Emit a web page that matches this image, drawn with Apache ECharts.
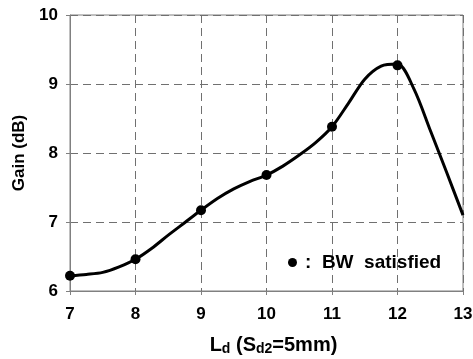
<!DOCTYPE html>
<html>
<head>
<meta charset="utf-8">
<script src="https://cdn.jsdelivr.net/npm/echarts@6/dist/echarts.min.js"></script>
<style>
  html, body { margin: 0; padding: 0; background: #fff; }
  #chart { width: 473px; height: 359px; }
</style>
</head>
<body>
<div id="chart"></div>
<script>
// gain curve (smooth fitted line)
const curveX = [7, 7.25, 7.5, 7.75, 8, 8.25, 8.5, 8.75, 9, 9.25, 9.5, 9.75, 10,
  10.25, 10.5, 10.75, 11, 11.25, 11.5, 11.75, 12, 12.25, 12.5, 12.75, 13];
const curveY = [6.22, 6.24, 6.27, 6.35, 6.46, 6.62, 6.81, 6.99, 7.17, 7.34, 7.48, 7.59, 7.68,
  7.81, 7.97, 8.15, 8.38, 8.72, 9.07, 9.26, 9.29, 8.93, 8.33, 7.72, 7.1];

// measured points where BW is satisfied
const pointX = [7, 8, 9, 10, 11, 12];
const pointY = [6.22, 6.46, 7.17, 7.68, 8.38, 9.27];

const xTicks = { min: 7, max: 13, step: 1 };
const yTicks = { min: 6, max: 10, step: 1 };

const frameColor = "#808080";
const gridColor = "#707070";
const fontFamily = "'Liberation Sans', Arial, sans-serif";

const chart = echarts.init(document.getElementById("chart"));

const option = {
  animation: false,
  grid: {
    left: 70,
    right: 10,
    top: 15,
    bottom: 68,
    outerBoundsMode: "none",
    show: true,
    borderColor: frameColor,
    borderWidth: 1,
  },
  legend: {
    data: [{ name: "bw", icon: "circle" }],
    formatter: () => ":  BW  satisfied",
    left: 283,
    top: 248,
    itemWidth: 9,
    itemHeight: 9,
    itemGap: 0,
    textStyle: {
      fontFamily,
      fontWeight: "bold",
      fontSize: 19,
      color: "#000",
      padding: [0, 0, 0, 3],
    },
  },
  xAxis: {
    type: "value",
    min: xTicks.min,
    max: xTicks.max,
    interval: xTicks.step,
    name: "{m|L}{s|d}{m| (S}{s|d2}{m|=5mm)}",
    nameLocation: "middle",
    nameGap: 44,
    nameTextStyle: {
      padding: [0, 0, 0, 14],
      rich: {
        m: { fontFamily, fontWeight: "bold", fontSize: 20, lineHeight: 20, color: "#000" },
        s: { fontFamily, fontWeight: "bold", fontSize: 14, lineHeight: 20, padding: [8, 0, 0, 0], color: "#000" },
      },
    },
    axisLine: { lineStyle: { color: frameColor, width: 1 } },
    axisTick: { show: true, length: 4, lineStyle: { color: frameColor } },
    axisLabel: {
      margin: 15,
      fontFamily,
      fontWeight: "bold",
      fontSize: 17,
      color: "#000",
    },
    splitLine: {
      show: true,
      lineStyle: { color: gridColor, type: [8, 5], width: 1 },
    },
  },
  yAxis: {
    type: "value",
    min: yTicks.min,
    max: yTicks.max,
    interval: yTicks.step,
    name: "Gain (dB)",
    nameLocation: "middle",
    nameGap: 40,
    nameTextStyle: {
      fontFamily,
      fontWeight: "bold",
      fontSize: 17,
      color: "#000",
    },
    axisLine: { show: true, lineStyle: { color: frameColor, width: 1 } },
    axisTick: { show: true, length: 4, lineStyle: { color: frameColor } },
    axisLabel: {
      margin: 12,
      fontFamily,
      fontWeight: "bold",
      fontSize: 17,
      color: "#000",
    },
    splitLine: {
      show: true,
      lineStyle: { color: gridColor, type: [8, 5], width: 1 },
    },
  },
  series: [
    {
      name: "curve",
      type: "line",
      smooth: 0.3,
      showSymbol: false,
      data: curveX.map((x, i) => [x, curveY[i]]),
      lineStyle: { color: "#000", width: 3 },
      z: 3,
    },
    {
      name: "bw",
      type: "scatter",
      data: pointX.map((x, i) => [x, pointY[i]]),
      symbol: "circle",
      symbolSize: 10,
      itemStyle: { color: "#000", opacity: 1 },
      z: 4,
    },
  ],
};

chart.setOption(option);
</script>
</body>
</html>
